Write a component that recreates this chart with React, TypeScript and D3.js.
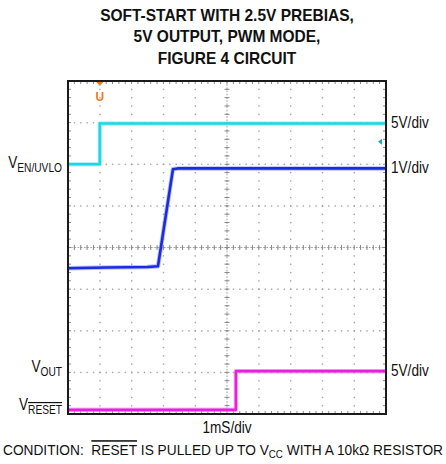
import React, { useLayoutEffect, useRef } from 'react';
import * as d3 from 'd3';

// scope screen: 10 x 8 divisions, values in divisions (y from bottom)
const enTime = [0, 1.0, 1.0, 10];
const enLevel = [6.0, 6.0, 6.98, 6.98];

const outTime = [0, 1.2, 2.5, 2.83, 3.3, 3.45, 10];
const outLevel = [3.5, 3.52, 3.53, 3.55, 5.88, 5.9, 5.9];

const rstTime = [0, 5.28, 5.28, 10];
const rstLevel = [0.1, 0.1, 1.03, 1.03];

const titleLines = ['SOFT-START WITH 2.5V PREBIAS,', '5V OUTPUT, PWM MODE,', 'FIGURE 4 CIRCUIT'];
const rightLabels = [
  { text: '5V/div', level: 6.98 },
  { text: '1V/div', level: 5.9 },
  { text: '5V/div', level: 1.03 },
];

const W = 446;
const H = 464;
const box = { left: 68, right: 386, top: 81, bottom: 414 };
const FONT = '"Liberation Sans Narrow", "Arial Narrow", "Liberation Sans", Arial, sans-serif';

// horizontal squeeze around an anchor x, stands in for a narrow face
const squeeze = (ax: number, k: number) => `translate(${ax},0) scale(${k},1) translate(${-ax},0)`;

export default function App() {
  const condRef = useRef<SVGTextElement>(null);

  const x = d3.scaleLinear().domain([0, 10]).range([box.left, box.right]);
  const y = d3.scaleLinear().domain([0, 8]).range([box.bottom, box.top]);

  const tracePath = (t: number[], v: number[]) =>
    d3
      .line<[number, number]>()
      .x(d => x(d[0]))
      .y(d => y(d[1]))(t.map((tt, i) => [tt, v[i]] as [number, number])) || '';

  // fit the condition line to the width it has in the reference
  useLayoutEffect(() => {
    const el = condRef.current;
    if (!el) return;
    const bb = el.getBBox();
    const k = 440 / bb.width;
    el.setAttribute('transform', `translate(3,0) scale(${k},1) translate(${-bb.x},0)`);
  }, []);

  const divX = d3.range(0, 11);
  const divY = d3.range(0, 9);
  const minorX = d3.range(0, 50.01, 1).map(d => d / 5);
  const minorY = d3.range(0, 40.01, 1).map(d => d / 5);

  const gridColor = '#999';

  return (
    <svg
      width={W}
      height={H}
      style={{ position: 'absolute', left: 0, top: 0, background: '#fff' }}
      fontFamily={FONT}
    >
      {/* title */}
      {titleLines.map((t, i) => (
        <text
          key={i}
          x={227}
          y={21 + i * 21.5}
          textAnchor="middle"
          fontWeight="bold"
          fontSize={16.5}
          fill="#111"
          transform={squeeze(227, 0.94)}
        >
          {t}
        </text>
      ))}

      {/* dotted grid */}
      <g fill={gridColor}>
        {divX.slice(1, 10).map(dx =>
          minorY.map(my => (
            <rect key={`vx${dx}-${my}`} x={x(dx) - 0.6} y={y(my) - 0.6} width={1.4} height={1.4} opacity={0.9} />
          )),
        )}
        {divY.slice(1, 8).map(dy =>
          minorX.map(mx => (
            <rect key={`hy${dy}-${mx}`} x={x(mx) - 0.6} y={y(dy) - 0.6} width={1.4} height={1.4} opacity={0.9} />
          )),
        )}
      </g>

      {/* center axes with ticks */}
      <g stroke="#8a8a8a" strokeWidth={1}>
        <line x1={x(5)} x2={x(5)} y1={box.top} y2={box.bottom} strokeDasharray="1.6,1.6" opacity={0.8} />
        <line x1={box.left} x2={box.right} y1={y(4)} y2={y(4)} strokeDasharray="1.6,1.6" opacity={0.8} />
        {minorX.map(mx => (
          <line key={`tx${mx}`} x1={x(mx)} x2={x(mx)} y1={y(4) - 2.5} y2={y(4) + 2.5} />
        ))}
        {minorY.map(my => (
          <line key={`ty${my}`} x1={x(5) - 2.5} x2={x(5) + 2.5} y1={y(my)} y2={y(my)} />
        ))}
        {/* edge ticks */}
        {minorX.map(mx => (
          <g key={`ex${mx}`}>
            <line x1={x(mx)} x2={x(mx)} y1={box.top} y2={box.top + 3} />
            <line x1={x(mx)} x2={x(mx)} y1={box.bottom - 3} y2={box.bottom} />
          </g>
        ))}
        {minorY.map(my => (
          <g key={`ey${my}`}>
            <line x1={box.left} x2={box.left + 3} y1={y(my)} y2={y(my)} />
            <line x1={box.right - 3} x2={box.right} y1={y(my)} y2={y(my)} />
          </g>
        ))}
      </g>

      {/* traces */}
      <g fill="none" strokeLinejoin="round">
        <path d={tracePath(enTime, enLevel)} stroke="#7fe8f0" strokeWidth={4.5} opacity={0.6} />
        <path d={tracePath(enTime, enLevel)} stroke="#1ed6e6" strokeWidth={2.6} />
        <path d={tracePath(outTime, outLevel)} stroke="#6f7ff0" strokeWidth={4.5} opacity={0.5} />
        <path d={tracePath(outTime, outLevel)} stroke="#1a2be0" strokeWidth={2.6} />
        <path d={tracePath(rstTime, rstLevel)} stroke="#f28af0" strokeWidth={4.5} opacity={0.6} />
        <path d={tracePath(rstTime, rstLevel)} stroke="#e81ee0" strokeWidth={2.6} />
      </g>

      {/* trigger marker */}
      <g fill="#f07a1c">
        <path d={`M${x(1.0) - 3.5},${box.top + 1} L${x(1.0) + 3.5},${box.top + 1} L${x(1.0)},${box.top + 5} Z`} />
        <text x={x(1.0)} y={box.top + 20} textAnchor="middle" fontSize={12} fontWeight="bold">
          U
        </text>
      </g>
      {/* channel marker on the right */}
      <path d={`M${box.right - 4},${y(6.54) - 3} L${box.right - 4},${y(6.54) + 3} L${box.right - 8},${y(6.54)} Z`} fill="#20a8b0" />

      {/* frame */}
      <rect
        x={box.left}
        y={box.top}
        width={box.right - box.left}
        height={box.bottom - box.top}
        fill="none"
        stroke="#1a1a1a"
        strokeWidth={2}
      />

      {/* left labels */}
      <g fontSize={16} fill="#111">
        <text x={62} y={y(6.0) + 4} textAnchor="end" transform={squeeze(62, 0.85)}>
          V<tspan fontSize={12} dy={4}>EN/UVLO</tspan>
        </text>
        <text x={62} y={y(1.03) + 1} textAnchor="end" transform={squeeze(62, 0.85)}>
          V<tspan fontSize={12} dy={4}>OUT</tspan>
        </text>
        <text x={62} y={y(0.1) + 0} textAnchor="end" transform={squeeze(62, 0.85)}>
          V<tspan fontSize={12} dy={4} style={{ textDecoration: 'overline' }}>RESET</tspan>
        </text>
      </g>

      {/* right labels */}
      <g fontSize={16} fill="#111">
        {rightLabels.map((l, i) => (
          <text key={i} x={391} y={y(l.level) + 5} transform={squeeze(391, 0.85)}>
            {l.text}
          </text>
        ))}
      </g>

      {/* bottom */}
      <text x={227} y={433} textAnchor="middle" fontSize={16} fill="#111" transform={squeeze(227, 0.85)}>
        1mS/div
      </text>
      <text ref={condRef} x={0} y={455} fontSize={15.5} fill="#111">
        CONDITION:{'\u00a0\u00a0'}
        <tspan style={{ textDecoration: 'overline' }}>RESET</tspan> IS PULLED UP TO V
        <tspan fontSize={11} dy={3}>CC</tspan>
        <tspan dy={-3}> WITH A 10kΩ RESISTOR</tspan>
      </text>
    </svg>
  );
}
